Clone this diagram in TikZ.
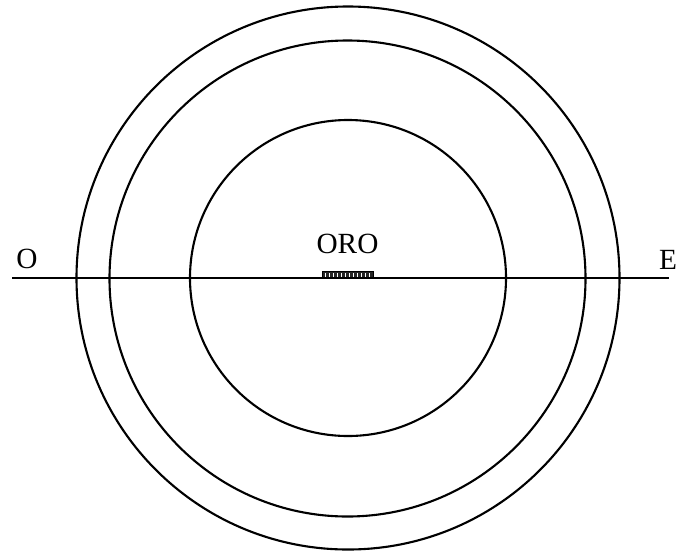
\documentclass[tikz,border=0pt]{standalone}
\usepackage{fontspec}
\setmainfont{Liberation Serif}
\usetikzlibrary{positioning,calc}

\begin{document}
\begin{tikzpicture}[x=0.03cm,y=-0.03cm,
    ring/.style={draw=black, line width=1.8pt},
    axis/.style={draw=black, line width=1.4pt},
    lab/.style={font=\fontsize{25}{29}\selectfont, inner sep=0pt}]

    \useasboundingbox (0,0) rectangle (679,552);

    % Rings
    \coordinate (ctr) at (348,278);
    \draw[ring] (ctr) circle[radius=271.5];
    \draw[ring] (347.5,278.5) circle[radius=238];
    \draw[ring] (ctr) circle[radius=158];

    % West-east line
    \coordinate (west) at (12,278);
    \coordinate (east) at (669,278);
    \draw[axis] (west) -- (east);
    \node[lab] (ovest) at (27,259) {O};
    \node[lab] (est) at (668,260) {E};

    % Gold bar
    \node[draw=black, fill=black!85, line width=0.6pt, minimum width=51*0.03cm,
          minimum height=6*0.03cm, inner sep=0pt, anchor=south] (bar) at (347.5,278) {};
    \foreach \i in {1,...,12}
      \draw[white, line width=0.3pt] ($(bar.south west)!\i/13!(bar.south east)+(0,-1)$) -- ++(0,-4);
    \node[lab, above=15pt of bar] (oro) {ORO};

  \end{tikzpicture}
\end{document}
